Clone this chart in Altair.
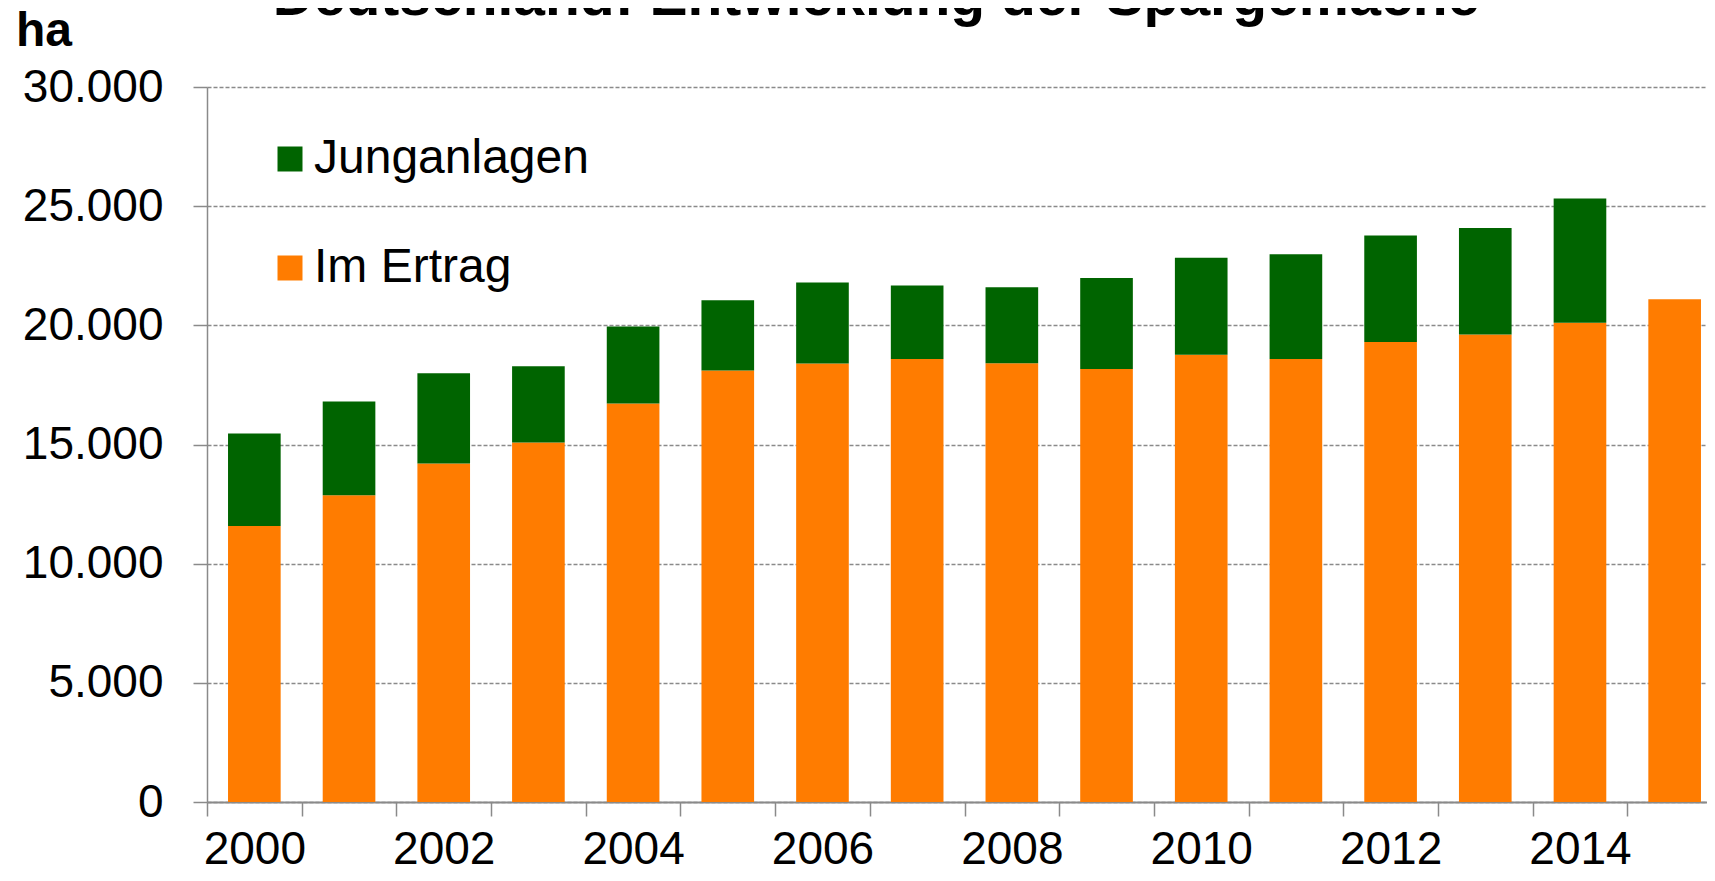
import altair as alt
import pandas as pd

TITLE = "Deutschland: Entwicklung der Spargelfläche"
UNIT = "ha"
YEARS = list(range(2000, 2016))
IM_ERTRAG = [11580, 12870, 14200, 15080, 16720, 18100, 18400, 18590,
             18410, 18170, 18770, 18590, 19300, 19620, 20110, 21090]
JUNGANLAGEN = [3880, 3930, 3790, 3200, 3230, 2950, 3400, 3080,
               3190, 3820, 4070, 4390, 4470, 4460, 5210, None]
SERIES = ["Junganlagen", "Im Ertrag"]
COLORS = ["#006400", "#FF7C00"]
Y_TICKS = [0, 5000, 10000, 15000, 20000, 25000, 30000]

rows = []
for yr, e, j in zip(YEARS, IM_ERTRAG, JUNGANLAGEN):
    rows.append({"Jahr": yr, "Serie": "Im Ertrag", "Wert": e, "Ordnung": 0})
    if j is not None:
        rows.append({"Jahr": yr, "Serie": "Junganlagen", "Wert": j, "Ordnung": 1})
df = pd.DataFrame(rows)

FONT = "Liberation Sans"
GRAY = "#8a8a8a"

bars = alt.Chart(df).mark_bar(width=alt.RelativeBandSize(0.556)).encode(
    x=alt.X(
        "Jahr:O",
        scale=alt.Scale(range=[0, 1515], paddingInner=0, paddingOuter=0),
        axis=alt.Axis(
            title=None, labelAngle=0, tickBand="extent",
            labelExpr="datum.value % 2 === 0 ? datum.label : ''",
            labelFont=FONT, labelFontSize=46, labelColor="black",
            labelBaseline="alphabetic", labelPadding=47, labelOverlap=False,
            labelBound=False, labelFlush=False,
            domainColor=GRAY, domainWidth=2, tickColor=GRAY, tickWidth=1.5,
            tickSize=14, grid=False,
        ),
    ),
    y=alt.Y(
        "Wert:Q", stack="zero",
        scale=alt.Scale(domain=[0, 30000], nice=False),
        axis=alt.Axis(
            title=None, values=Y_TICKS,
            labelExpr="replace(format(datum.value, ','), ',', '.')",
            labelFont=FONT, labelFontSize=46, labelColor="black",
            labelPadding=30, labelBound=False, labelFlush=False,
            domainColor=GRAY, domainWidth=1.5, tickColor=GRAY, tickWidth=1.5,
            tickSize=14, grid=True, gridColor=GRAY, gridDash=[4, 2],
            gridWidth=1.3,
        ),
    ),
    color=alt.Color(
        "Serie:N",
        scale=alt.Scale(domain=SERIES, range=COLORS),
        legend=alt.Legend(
            title=None, orient="none", legendX=59, legendY=48, padding=0,
            symbolType="square", symbolSize=625, symbolStrokeWidth=0,
            symbolOpacity=1, labelFont=FONT, labelFontSize=48,
            labelColor="black", labelOffset=0, rowPadding=61,
            labelLimit=600,
        ),
    ),
    order=alt.Order("Ordnung:Q"),
)

title_text = alt.Chart(pd.DataFrame({"t": [TITLE]})).mark_text(
    font=FONT, fontSize=57, fontWeight="bold", align="center",
    baseline="alphabetic", color="black",
).encode(text="t:N", x=alt.value(669), y=alt.value(-72))

unit_text = alt.Chart(pd.DataFrame({"t": [UNIT]})).mark_text(
    font=FONT, fontSize=48, fontWeight="bold", align="left",
    baseline="alphabetic", color="black",
).encode(text="t:N", x=alt.value(-191), y=alt.value(-41))

chart = alt.layer(bars, title_text, unit_text).properties(
    width=1500, height=715,
    autosize=alt.AutoSizeParams(type="none"),
    padding={"left": 199, "top": 79, "right": 0, "bottom": 71},
    background="white",
).configure_view(stroke=None)

chart.save("out.html", embed_options={"renderer": "svg", "actions": False})
